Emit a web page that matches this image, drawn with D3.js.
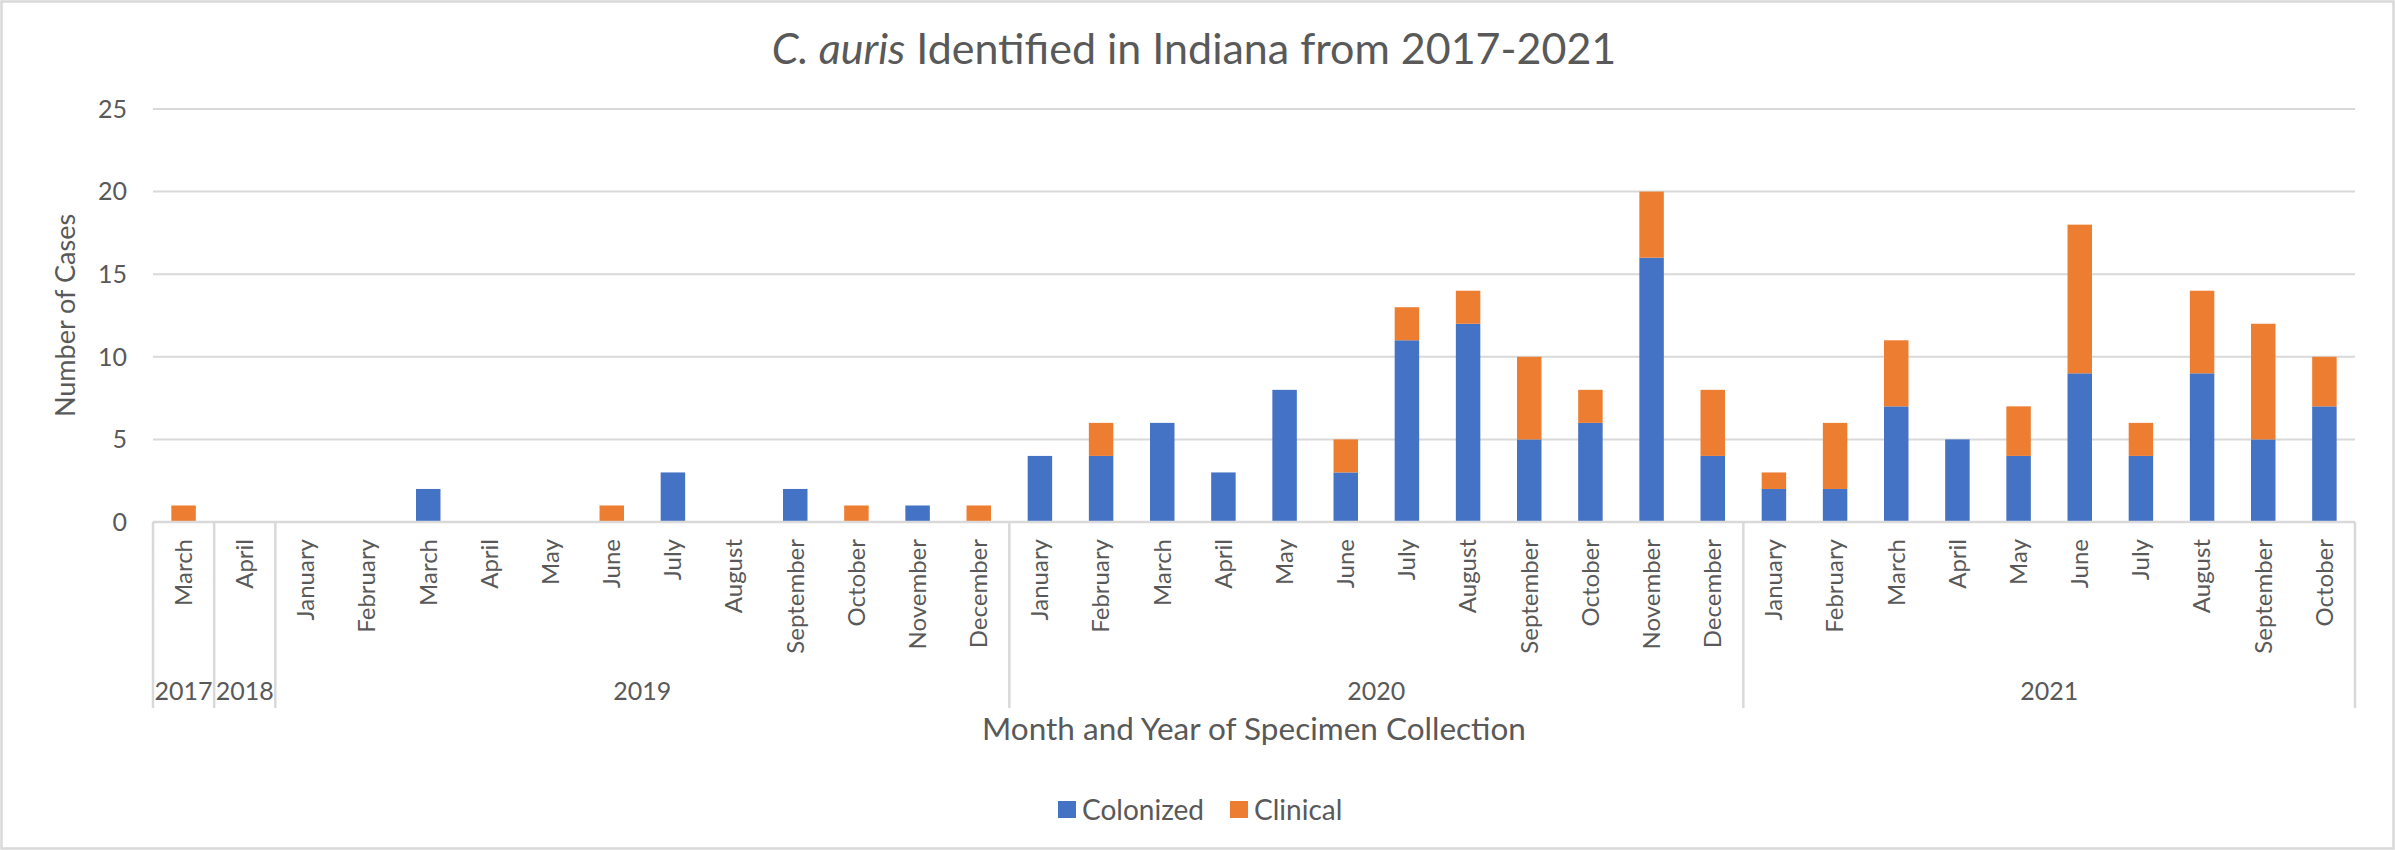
<!DOCTYPE html>
<html>
<head>
<meta charset="utf-8">
<script src="https://cdn.jsdelivr.net/npm/d3@7"></script>
<style>
  html, body { margin: 0; padding: 0; background: #fff; }
  svg { display: block; font-family: Lato, "Open Sans", sans-serif; }
</style>
</head>
<body>
<div id="chart"></div>
<script>
const months = [
  'March',
  'April',
  'January', 'February', 'March', 'April', 'May', 'June', 'July', 'August', 'September', 'October', 'November', 'December',
  'January', 'February', 'March', 'April', 'May', 'June', 'July', 'August', 'September', 'October', 'November', 'December',
  'January', 'February', 'March', 'April', 'May', 'June', 'July', 'August', 'September', 'October'
];
const years = [
  '2017',
  '2018',
  '2019', '2019', '2019', '2019', '2019', '2019', '2019', '2019', '2019', '2019', '2019', '2019',
  '2020', '2020', '2020', '2020', '2020', '2020', '2020', '2020', '2020', '2020', '2020', '2020',
  '2021', '2021', '2021', '2021', '2021', '2021', '2021', '2021', '2021', '2021'
];
const colonized = [
  0,
  0,
  0, 0, 2, 0, 0, 0, 3, 0, 2, 0, 1, 0,
  4, 4, 6, 3, 8, 3, 11, 12, 5, 6, 16, 4,
  2, 2, 7, 5, 4, 9, 4, 9, 5, 7
];
const clinical = [
  1,
  0,
  0, 0, 0, 0, 0, 1, 0, 0, 0, 1, 0, 1,
  0, 2, 0, 0, 0, 2, 2, 2, 5, 2, 4, 4,
  1, 4, 4, 0, 3, 9, 2, 5, 7, 3
];
const yTicks = [0, 5, 10, 15, 20, 25];
const seriesNames = ['Colonized', 'Clinical'];

const COLORS = { Colonized: '#4472C4', Clinical: '#ED7D31' };
const TEXT = '#595959';
const GRID = '#d9d9d9';

const W = 2395, H = 850;
const plotL = 153, plotR = 2355, plotT = 109, plotB = 522;

const rows = months.map((m, i) => ({
  key: years[i] + '-' + i, month: m, year: years[i],
  Colonized: colonized[i], Clinical: clinical[i]
}));

const svg = d3.select('#chart').append('svg').attr('width', W).attr('height', H);

svg.append('rect').attr('x', 1.5).attr('y', 1.5).attr('width', W - 3).attr('height', H - 3)
  .attr('fill', '#fff').attr('stroke', GRID).attr('stroke-width', 2.5);

// one slot per month, bar takes 40% of it (Excel gap width 150%)
const slot = d3.scaleBand().domain(rows.map(d => d.key)).range([plotL, plotR]);
const barW = slot.bandwidth() * 0.4;
const y = d3.scaleLinear().domain([0, 25]).range([plotB, plotT]);

// gridlines + y labels
svg.append('g').selectAll('line').data(yTicks.filter(t => t > 0)).enter().append('line')
  .attr('x1', plotL).attr('x2', plotR).attr('y1', d => y(d)).attr('y2', d => y(d))
  .attr('stroke', GRID).attr('stroke-width', 2);

svg.append('g').selectAll('text').data(yTicks).enter().append('text')
  .attr('x', 127).attr('y', d => y(d)).attr('dy', '0.35em')
  .attr('text-anchor', 'end').attr('fill', TEXT).style('font-size', '25px')
  .text(d => d);

// stacked bars
const stack = d3.stack().keys(seriesNames)(rows);
svg.append('g').selectAll('g').data(stack).enter().append('g')
  .attr('fill', s => COLORS[s.key])
  .selectAll('rect').data(s => s.filter(d => d[1] > d[0])).enter().append('rect')
  .attr('x', d => slot(d.data.key) + (slot.bandwidth() - barW) / 2)
  .attr('width', barW)
  .attr('y', d => y(d[1]))
  .attr('height', d => y(d[0]) - y(d[1]));

// axis line
svg.append('line').attr('x1', plotL).attr('x2', plotR).attr('y1', plotB).attr('y2', plotB)
  .attr('stroke', GRID).attr('stroke-width', 2.5);

// month labels
svg.append('g').selectAll('text').data(rows).enter().append('text')
  .attr('transform', d => `translate(${slot(d.key) + slot.bandwidth() / 2},539) rotate(-90)`)
  .attr('dy', '0.35em').attr('text-anchor', 'end')
  .attr('fill', TEXT).style('font-size', '24px')
  .text(d => d.month);

// year groups
const groups = d3.groups(rows, d => d.year).map(([yr, list]) => ({
  year: yr,
  x0: slot(list[0].key),
  x1: slot(list[list.length - 1].key) + slot.bandwidth()
}));
const seps = [plotL].concat(groups.map(g => g.x1));
svg.append('g').selectAll('line').data(seps).enter().append('line')
  .attr('x1', d => d).attr('x2', d => d).attr('y1', plotB).attr('y2', 708)
  .attr('stroke', GRID).attr('stroke-width', 2.5);

svg.append('g').selectAll('text').data(groups).enter().append('text')
  .attr('x', g => (g.x0 + g.x1) / 2).attr('y', 700)
  .attr('text-anchor', 'middle').attr('fill', TEXT).style('font-size', '25px')
  .text(g => g.year);

// title
const title = svg.append('text').attr('x', 1194).attr('y', 64)
  .attr('text-anchor', 'middle').attr('fill', TEXT).style('font-size', '43px');
title.append('tspan').style('font-style', 'italic').text('C. auris');
title.append('tspan').text(' Identified in Indiana from 2017-2021');

// axis titles
svg.append('text')
  .attr('transform', `translate(${(plotL + plotR) / 2},740)`)
  .attr('text-anchor', 'middle').attr('fill', TEXT).style('font-size', '31.5px')
  .text('Month and Year of Specimen Collection');

svg.append('text')
  .attr('transform', `translate(66,${(plotT + plotB) / 2}) rotate(-90)`)
  .attr('dy', '0.35em').attr('text-anchor', 'middle').attr('fill', TEXT).style('font-size', '27px')
  .text('Number of Cases');

// legend
const legendX = [1058, 1230];
const legend = svg.append('g').selectAll('g').data(seriesNames).enter().append('g')
  .attr('transform', (d, i) => `translate(${legendX[i]},801)`);
legend.append('rect').attr('width', 18).attr('height', 17).attr('fill', d => COLORS[d]);
legend.append('text').attr('x', 24).attr('y', 9).attr('dy', '0.35em')
  .attr('fill', TEXT).style('font-size', '28px').text(d => d);
</script>
</body>
</html>
